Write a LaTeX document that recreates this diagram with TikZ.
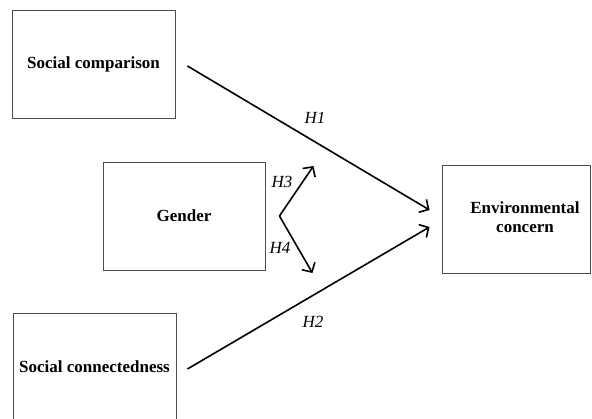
\documentclass[tikz,border=0pt]{standalone}
\usepackage{fontspec}
\setmainfont{Liberation Serif}
\usetikzlibrary{positioning,arrows.meta}
\tikzset{x=1pt,y=1pt,
  box/.style={ % Sets the properties for each variable box
    draw=black!70,
    line width=0.9pt,
    minimum height=108pt,
    font=\fontsize{17}{19}\selectfont\bfseries},
  hyp/.style={ % hypothesis arrows
    draw,
    line width=1.6pt,
    -{Straight Barb[length=7pt,width=15pt,line width=1.6pt]}},
  hlabel/.style={font=\fontsize{17}{19}\selectfont\itshape}}

\begin{document}
\begin{tikzpicture}
    \useasboundingbox (0,0) rectangle (592,418);
    \node[box,minimum width=163pt] (comp) at (93.5,354) {Social comparison};
    \node[box,minimum width=162pt] (gender) at (184,202) {Gender};
    \node[box,minimum width=163pt] (conn) at (94.5,51) {Social connectedness};
    \node[box,minimum width=148pt] (env) at (516,199)
      {\hspace*{18pt}\begin{tabular}{@{}c@{}}Environmental\\concern\end{tabular}};
    \coordinate (mod) at ([xshift=14pt]gender.east);
    \coordinate (h3end) at ([shift={(34pt,50pt)}]mod);
    \coordinate (h4end) at ([shift={(33pt,-57pt)}]mod);
    \draw[hyp] ([shift={(12pt,-2pt)}]comp.east) -- ([shift={(-12pt,9pt)}]env.west);
    \draw[hyp] ([shift={(11pt,-2pt)}]conn.east) -- ([shift={(-12pt,-8pt)}]env.west);
    \draw[hyp] (mod) -- (h3end);
    \draw[hyp] (mod) -- (h4end);
    \node[hlabel] (h1) at (315,300) {H1};
    \node[hlabel] (h2) at (313,96) {H2};
    \node[hlabel] (h3) at (282,236) {H3};
    \node[hlabel] (h4) at (280,170) {H4};
  \end{tikzpicture}
\end{document}
